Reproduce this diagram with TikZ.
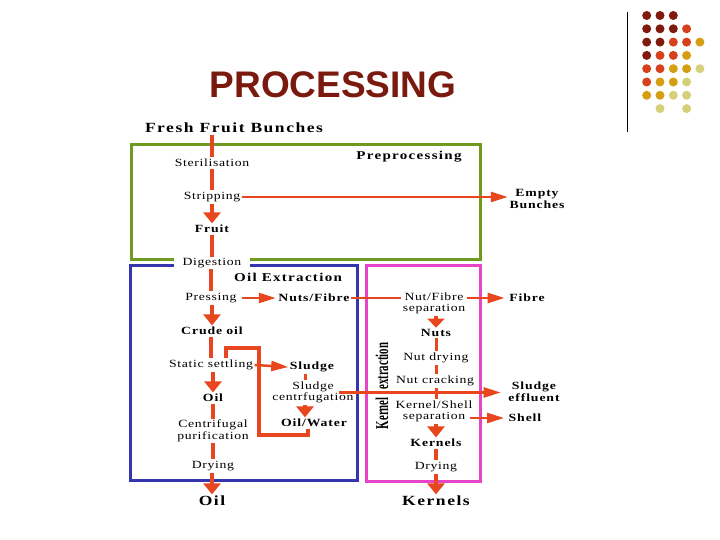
\documentclass[tikz,border=0pt]{standalone}
\usepackage{fontspec}
\setmainfont{Liberation Serif}
\newfontfamily\titlefont{Liberation Sans}
\newfontfamily\lblfont[FakeStretch=1.25,LetterSpace=6]{Liberation Serif}
\newfontfamily\lblbfont[FakeStretch=1.25,LetterSpace=8]{Liberation Serif}
\newfontfamily\hdrfont[FakeStretch=1.25,LetterSpace=11]{Liberation Serif}
\usetikzlibrary{arrows.meta}
\definecolor{arr}{HTML}{E8461E}
\definecolor{boxgreen}{HTML}{6E9A1F}
\definecolor{boxblue}{HTML}{3535AE}
\definecolor{boxmag}{HTML}{E645C8}
\definecolor{titlered}{HTML}{7A1A0E}
\definecolor{dotD}{HTML}{7F1A0C}
\definecolor{dotO}{HTML}{D6401A}
\definecolor{dotG}{HTML}{D4A012}
\definecolor{dotP}{HTML}{D6D07A}
\tikzset{
  lbl/.style={font=\lblfont\fontsize{11}{11.5}\selectfont, inner sep=1.5pt, align=center},
  lblb/.style={font=\lblbfont\bfseries\fontsize{11}{11.5}\selectfont, inner sep=1.5pt, align=center},
  hdr/.style={font=\hdrfont\bfseries\fontsize{12}{12}\selectfont, inner sep=1.5pt},
  bigb/.style={font=\hdrfont\bfseries\fontsize{14}{14}\selectfont, inner sep=1.5pt},
  frame/.style={line width=3pt},
  vline/.style={draw=arr, line width=4pt},
  varrow/.style={vline, -{Triangle[length=11pt,width=17pt]}},
  nline/.style={draw=arr, line width=3pt},
  hline/.style={draw=arr, line width=2.5pt},
  harrow/.style={hline, -{Triangle[length=17pt,width=10pt]}},
  loopl/.style={draw=arr, line width=3.5pt},
}
\begin{document}
\begin{tikzpicture}[x=1pt,y=-1pt]
\useasboundingbox (0,0) rectangle (720,540);
% decoration
\draw[line width=1.3pt] (627.3,12) -- (627.3,132);
\foreach \r/\c/\k in {1/1/D,1/2/D,1/3/D,
  2/1/D,2/2/D,2/3/D,2/4/O,
  3/1/D,3/2/D,3/3/O,3/4/O,3/5/G,
  4/1/D,4/2/O,4/3/O,4/4/G,
  5/1/O,5/2/O,5/3/G,5/4/G,5/5/P,
  6/1/O,6/2/G,6/3/G,6/4/P,
  7/1/G,7/2/G,7/3/P,7/4/P,
  8/2/P,8/4/P}
  \fill[dot\k] (633.4+13.3*\c, 2.2+13.3*\r) circle (4.5pt);
\node[font=\titlefont\bfseries\fontsize{37}{37}\selectfont, text=titlered, inner sep=0pt] (title) at (333,85) {PROCESSING};
% boxes
\draw[frame, boxgreen] (131,145) rectangle (480,259);
\draw[frame, boxblue] (130,265) rectangle (357,480);
\draw[frame, boxmag] (366,265) rectangle (480,481);
% labels
\node[bigb] (ffb) at (234,128) {Fresh Fruit Bunches};
\node[lbl] (ster) at (212,163) {Sterilisation};
\node[hdr] (prep) at (409,157) {Preprocessing};
\node[lbl] (strip) at (212,197) {Stripping};
\node[lblb] (fruit) at (212,229) {Fruit};
\node[lbl, fill=white, inner xsep=9pt, inner ysep=1pt] (dig) at (212,263) {Digestion};
\node[lblb] (empty) at (537,199) {Empty\\Bunches};
\node[hdr] (oilx) at (288,277) {Oil Extraction};
\node[lbl] (press) at (211,298) {Pressing};
\node[lblb] (nf) at (314,298) {Nuts/Fibre};
\node[lblb] (crude) at (212,331) {Crude oil};
\node[lbl] (static) at (211,365) {Static settling};
\node[lblb] (sludge) at (312,367) {Sludge};
\node[lbl] (sc) at (313,392.5) {Sludge\\centrfugation};
\node[lblb] (ow) at (314,423) {Oil/Water};
\node[lblb] (oil1) at (213,398) {Oil};
\node[lbl] (centri) at (213,431) {Centrifugal\\purification};
\node[lbl] (dry1) at (213,466) {Drying};
\node[bigb] (oil2) at (212,501) {Oil};
\node[lbl] (nfsep) at (434,303.5) {Nut/Fibre\\separation};
\node[lblb] (fibre) at (527,298) {Fibre};
\node[lblb] (nuts) at (436,333) {Nuts};
\node[lbl] (nutdry) at (436,358) {Nut drying};
\node[lbl] (nutcrack) at (435,381) {Nut cracking};
\node[lblb] (se) at (534,391.5) {Sludge\\effluent};
\node[lbl] (kssep) at (434,411.5) {Kernel/Shell\\separation};
\node[lblb] (shell) at (525,418) {Shell};
\node[lblb] (ker1) at (436,443) {Kernels};
\node[lbl] (dry2) at (436,467) {Drying};
\node[bigb] (ker2) at (436,501) {Kernels};
\node[rotate=90, inner sep=0pt, font=\bfseries\fontsize{18}{18}\selectfont] (kext) at (382,386) {\scalebox{0.6}[1]{Kernel\hspace{13pt}extraction}};
% main column
\draw[vline] (ffb.south -| ster.north) -- (ster.north);
\draw[vline] (ster) -- (strip);
\draw[varrow] (strip) -- (fruit);
\draw[vline] (fruit) -- (dig);
\draw[vline] (dig.south -| press.north) -- (press.north);
\draw[varrow] (press.south -| crude.north) -- (crude.north);
\draw[vline] (crude.south -| static.north) -- (static.north);
\draw[varrow] (static.south -| oil1.north) -- (oil1.north);
\draw[vline] (oil1) -- (centri);
\draw[vline] (centri) -- (dry1);
\draw[varrow] (dry1.south -| oil2.north) -- (oil2.north);
% side flows
\draw[harrow] (strip.east) -- (strip.east -| empty.west);
\draw[harrow] ([xshift=4pt]press.east) -- ([xshift=-1pt]nf.west);
\draw[hline] (nf.east) -- (nf.east -| nfsep.west);
\draw[harrow] (nfsep.east |- fibre) -- ([xshift=-3pt]fibre.west);
\draw[varrow, -{Triangle[length=9pt,width=17pt]}] (nfsep.south -| nuts.north) -- (nuts.north);
\draw[nline] (nuts) -- (nutdry);
\draw[nline] (nutdry.south -| nuts) -- (nutcrack.north -| nuts);
\draw[nline] (nutcrack.south -| nuts) -- (kssep.north -| nuts);
\draw[varrow] (kssep.south -| ker1.north) -- (ker1.north);
\draw[vline] (ker1) -- (dry2);
\draw[varrow] (dry2) -- (ker2);
\draw[harrow] ([xshift=-4pt]kssep.east |- shell) -- ([xshift=-3pt]shell.west);
\draw[harrow] (static.east) -- (sludge.west);
\coordinate (sx) at (305,0);
\draw[nline] (sludge.south -| sx) -- (sc.north -| sx);
\draw[varrow] (sc.south -| sx) -- (ow.north -| sx);
\draw[harrow] ([xshift=-16pt]sc.east) -- ([xshift=-6pt]sc.east -| se.west);
\coordinate (lpA) at (259,435);
\coordinate (lpB) at (226,348);
\draw[loopl] ([xshift=-6pt]ow.south) |- (lpA) |- (lpB) -- (lpB |- static.north);
\end{tikzpicture}
\end{document}
